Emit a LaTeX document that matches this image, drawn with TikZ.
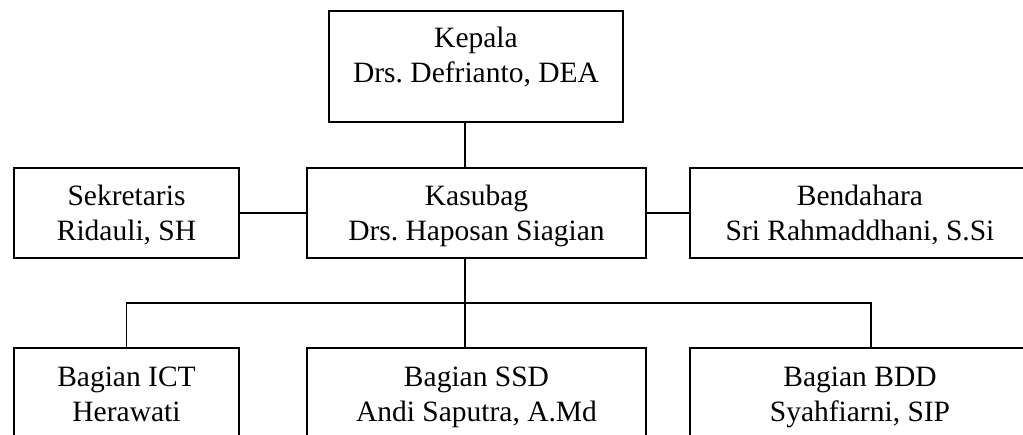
\documentclass[tikz,border=0pt]{standalone}
\usepackage{fontspec}
\setmainfont{Liberation Serif}
\frenchspacing
\usetikzlibrary{positioning}
\tikzset{
  wire/.style={black,line width=1.3pt},
  post/.style={draw=black,line width=2pt,fill=white,align=center,inner sep=0pt,
               minimum height=90pt,text height=56pt,text depth=0pt,
               font=\fontsize{29.5}{35}\selectfont},
  chief/.style={post,minimum height=111pt,text height=55pt,text depth=22pt},
}
\begin{document}
\begin{tikzpicture}[x=1pt,y=-1pt]
  \path[use as bounding box] (0,0) rectangle (1023,435);
  \clip (0,0) rectangle (1023,435);

  % top
  \node[chief,minimum width=294pt] (kepala) at (476,66.5)
    {Kepala\\Drs. Defrianto, DEA};

  % middle row
  \node[post,minimum width=225pt] (sekretaris) at (126.5,213)
    {Sekretaris\\Ridauli, SH};
  \node[post,minimum width=339pt] (kasubag) at (476.5,213)
    {Kasubag\\Drs. Haposan Siagian};
  \node[post,minimum width=340pt] (bendahara) at (860,213)
    {Bendahara\\Sri Rahmaddhani, S.Si};

  % bottom row
  \node[post,minimum width=225pt] (ict) at (126.5,393)
    {Bagian ICT\\Herawati};
  \node[post,minimum width=339pt] (ssd) at (476.5,393)
    {Bagian SSD\\Andi Saputra, A.Md};
  \node[post,minimum width=340pt] (bdd) at (860,393)
    {Bagian BDD\\Syahfiarni, SIP};

  \coordinate (spine) at (465,0);
  \coordinate (bar) at (465,303);
  \coordinate (bddtap) at (871,0);

  \draw[wire] (kepala.south -| spine) -- (kasubag.north -| spine);
  \draw[wire] (sekretaris) -- (kasubag);
  \draw[wire] (kasubag) -- (bendahara);
  \draw[wire] (kasubag.south -| spine) -- (ssd.north -| spine);
  \draw[wire] (ict.north) |- (bar) -| (bdd.north -| bddtap);
\end{tikzpicture}
\end{document}
